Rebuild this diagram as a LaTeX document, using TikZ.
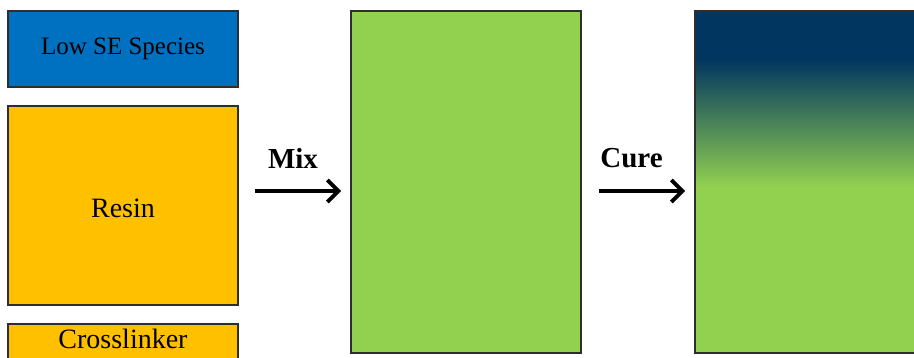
\documentclass[tikz,border=0pt]{standalone}
\usepackage{fontspec}
\setmainfont{Liberation Serif}
\usetikzlibrary{arrows.meta}
\definecolor{sebue}{HTML}{0070C0}
\definecolor{resinyellow}{HTML}{FFC000}
\definecolor{mixgreen}{HTML}{92D050}
\definecolor{navy}{HTML}{013660}
\definecolor{edge}{HTML}{2E2E2E}
\tikzset{
  x=1pt, y=1pt,
  box/.style={draw=edge, line width=1.4pt, minimum width=230pt, inner sep=0pt, outer sep=0pt},
  steplabel/.style={font=\bfseries\fontsize{29}{32}\selectfont, anchor=base},
  arr/.style={line width=3.8pt, -{Straight Barb[length=11pt,width=22pt,line width=3.8pt]}},
}
\begin{document}
\begin{tikzpicture}
\useasboundingbox (0,0) rectangle (914,357);
\fill[white] (0,0) rectangle (914,357);
\clip (0,0) rectangle (914,357);

% ingredients
\node[box, fill=sebue, minimum height=76pt, font=\fontsize{25}{28}\selectfont]
  (low) at (123,308) {Low SE Species};
\node[box, fill=resinyellow, minimum height=199pt] (resin) at (123,151.5) {};
\node[anchor=base, font=\fontsize{28}{32}\selectfont] (resintext) at (123,140) {Resin};
\node[box, fill=resinyellow, minimum height=66pt] (cross) at (123,0) {};
\node[anchor=base, font=\fontsize{28}{32}\selectfont] (crosstext) at (123,9) {Crosslinker};

% mixed blend
\node[box, fill=mixgreen, minimum height=342pt] (mixed) at (466,175) {};

% cured film: enriched layer at the top
\fill[navy] (695,297) rectangle (925,346);
\shade[top color=navy, bottom color=mixgreen] (695,170) rectangle (925,297.5);
\fill[mixgreen] (695,4) rectangle (925,170.5);
\node[box, minimum height=342pt] (cured) at (810,175) {};

% process arrows
\coordinate (mixA) at (255,166);
\coordinate (mixB) at (341,166);
\coordinate (cureA) at (599,166);
\coordinate (cureB) at (685,166);
\draw[arr] (mixA) -- (mixB);
\draw[arr] (cureA) -- (cureB);
\node[steplabel] (mixlbl) at (293,189) {Mix};
\node[steplabel] (curelbl) at (631.5,190) {Cure};
\end{tikzpicture}
\end{document}
